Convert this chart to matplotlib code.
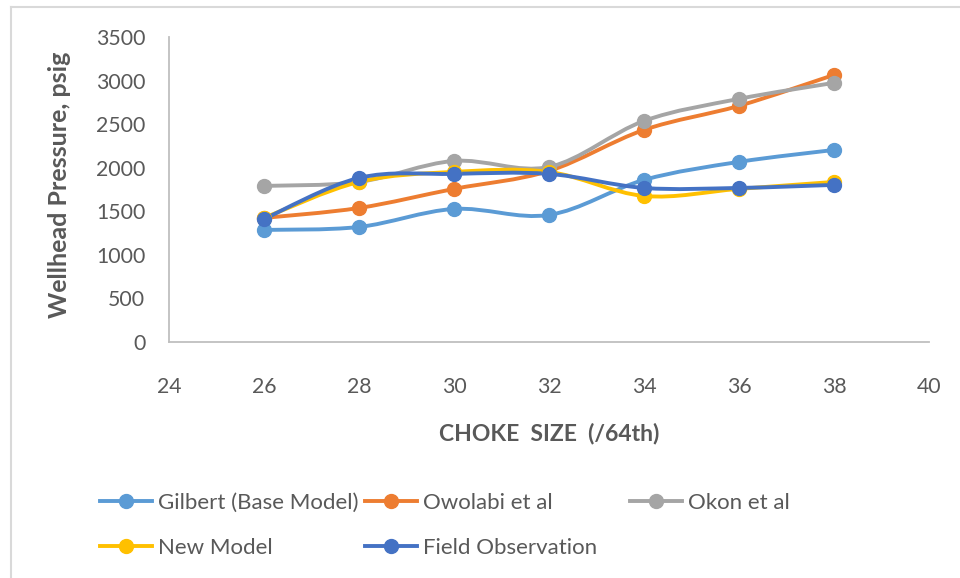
import numpy as np
import matplotlib.pyplot as plt
from matplotlib.path import Path
from matplotlib.patches import PathPatch
from matplotlib.lines import Line2D

plt.rcParams['font.family'] = ['Lato', 'DejaVu Sans']

choke = [26, 28, 30, 32, 34, 36, 38]
gilbert = [1286, 1320, 1527, 1458, 1860, 2067, 2204]
owolabi = [1424, 1538, 1757, 1963, 2434, 2710, 3065]
okon = [1791, 1837, 2078, 2009, 2537, 2790, 2974]
new_model = [1424, 1837, 1952, 1952, 1676, 1757, 1837]
field_obs = [1412, 1883, 1929, 1929, 1768, 1768, 1803]

names = ["Gilbert (Base Model)", "Owolabi et al", "Okon et al", "New Model", "Field Observation"]
colors = ["#5B9BD5", "#ED7D31", "#A5A5A5", "#FFC000", "#4472C4"]
series = [gilbert, owolabi, okon, new_model, field_obs]

# legend slots (figure pixels) like Excel's fixed grid
leg_pos = [(100, 503), (365, 503), (630, 503), (100, 548), (365, 548)]

W, H = 960, 578
fig = plt.figure(figsize=(9.6, 5.78), dpi=100)
ax = fig.add_axes([169 / W, 1 - 342 / H, (929 - 169) / W, (342 - 37) / H])


def smooth_path(x, y):
    # Excel style smoothed line: cubic bezier, control points from neighbours / 6
    pts = np.column_stack([x, y]).astype(float)
    n = len(pts)
    verts = [pts[0]]
    codes = [Path.MOVETO]
    for i in range(n - 1):
        p0 = pts[i - 1] if i > 0 else pts[i]
        p1 = pts[i]
        p2 = pts[i + 1]
        p3 = pts[i + 2] if i + 2 < n else pts[i + 1]
        verts += [p1 + (p2 - p0) / 6, p2 - (p3 - p1) / 6, p2]
        codes += [Path.CURVE4] * 3
    return Path(verts, codes)


for vals, c, name in zip(series, colors, names):
    patch = PathPatch(smooth_path(choke, vals), facecolor="none", edgecolor=c,
                      lw=2.8, capstyle="round", joinstyle="round")
    ax.add_patch(patch)
    ax.plot(choke, vals, "o", color=c, markersize=10, zorder=patch.get_zorder() + 0.5)

ax.set_xlim(24, 40)
ax.set_ylim(0, 3500)
ax.set_xticks(range(24, 41, 2))
ax.set_yticks(range(0, 3501, 500))
for s in ["top", "right"]:
    ax.spines[s].set_visible(False)
for s in ["left", "bottom"]:
    ax.spines[s].set_color("#BFBFBF")
    ax.spines[s].set_linewidth(1.3)
ax.tick_params(axis="both", length=0, labelsize=15.3, colors="#595959")
ax.tick_params(axis="x", pad=25)
ax.tick_params(axis="y", pad=17)

fig.text(60 / W, 1 - 185 / H, "Wellhead Pressure, psig", rotation=90, ha="center", va="center",
         fontsize=18, fontweight="bold", color="#595959")
fig.text(549 / W, 1 - 433 / H, "CHOKE  SIZE  (/64th)", ha="center", va="center",
         fontsize=16.5, fontweight="bold", color="#595959")

# outer chart area border (left and top only visible)
fig.add_artist(Line2D([11 / W, 11 / W], [0, 1 - 7 / H], transform=fig.transFigure, color="#D9D9D9", lw=1.5))
fig.add_artist(Line2D([11 / W, 1], [1 - 7 / H, 1 - 7 / H], transform=fig.transFigure, color="#D9D9D9", lw=1.5))

for (px, py), c, name in zip(leg_pos, colors, names):
    h = Line2D([], [], color=c, lw=2.8, marker="o", markersize=10)
    fig.legend([h], [name], loc="center left", bbox_to_anchor=(px / W, 1 - py / H),
               frameon=False, fontsize=16, handlelength=2.35, handletextpad=0.25,
               borderpad=0, borderaxespad=0, labelcolor="#595959")

fig.savefig("out.png", dpi=100)
